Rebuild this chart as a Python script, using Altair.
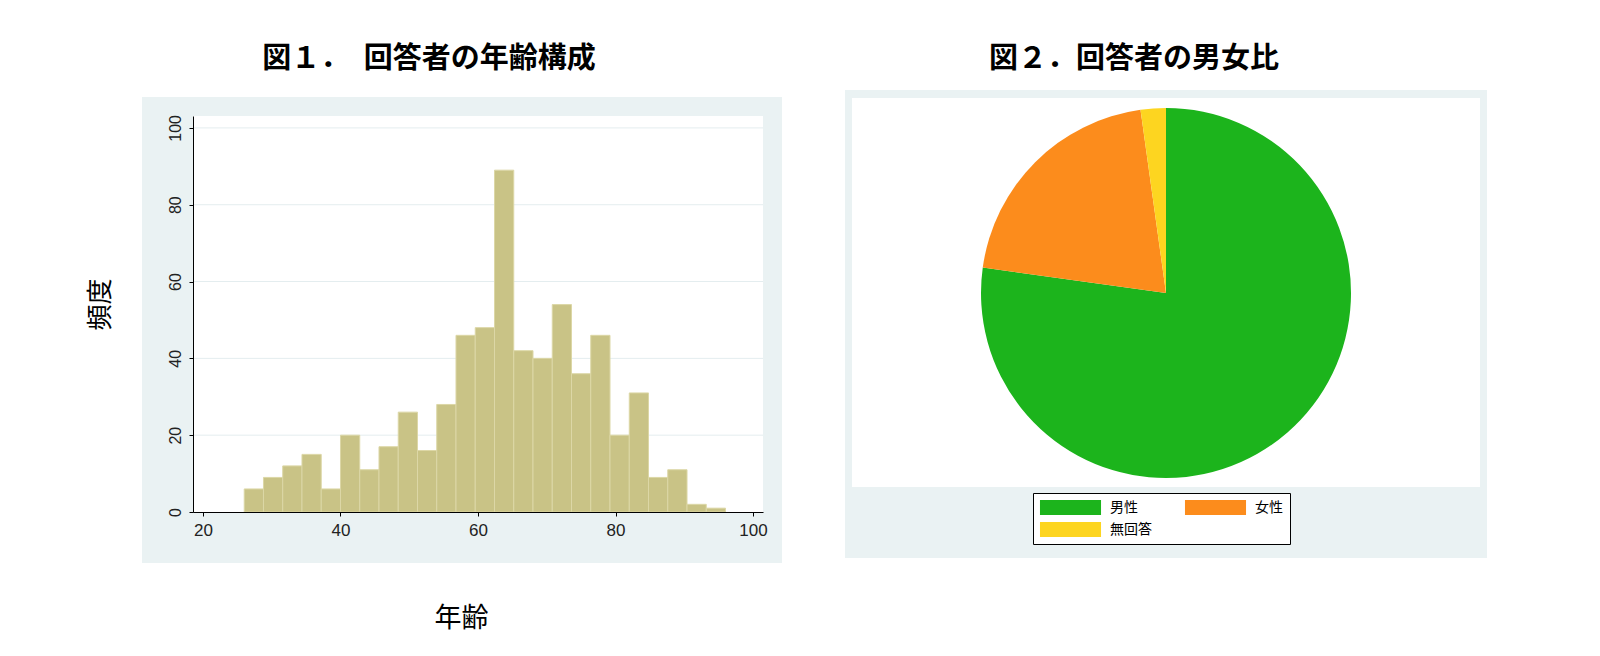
import altair as alt
import pandas as pd

# ---- data ----
bin_start = [26.0, 28.8, 31.6, 34.4, 37.2, 40.0, 42.8, 45.6, 48.4, 51.2, 54.0, 56.8, 59.6,
             62.4, 65.2, 68.0, 70.8, 73.6, 76.4, 79.2, 82.0, 84.8, 87.6, 90.4, 93.2]
bin_end = [28.8, 31.6, 34.4, 37.2, 40.0, 42.8, 45.6, 48.4, 51.2, 54.0, 56.8, 59.6, 62.4,
           65.2, 68.0, 70.8, 73.6, 76.4, 79.2, 82.0, 84.8, 87.6, 90.4, 93.2, 96.0]
counts = [6, 9, 12, 15, 6, 20, 11, 17, 26, 16, 28, 46, 48, 89, 42, 40, 54, 36, 46, 20, 31, 9, 11, 2, 1]
x_ticks = [20, 40, 60, 80, 100]
y_ticks = [0, 20, 40, 60, 80, 100]
grid_vals = [20, 40, 60, 80, 100]

sex_labels = ["男性", "女性", "無回答"]
sex_share = [77.2, 20.6, 2.2]
sex_colors = {"男性": "#1CB41C", "女性": "#FC8C1C", "無回答": "#FDD520"}
legend_order = ["男性", "無回答", "女性"]  # column-major fill -> 男性 女性 / 無回答

GREY = "#EAF2F3"
JP = "Noto Sans CJK JP"
LAT = "Liberation Sans"

hist_df = pd.DataFrame({"start": bin_start, "end": bin_end, "count": counts})
grid_df = pd.DataFrame({"v": grid_vals})
pie_df = pd.DataFrame({"sex": sex_labels, "share": sex_share, "order": list(range(len(sex_labels)))})

W1, H1 = 570, 396
W2, H2 = 628, 354

one = alt.Data(values=[{}])

xs = alt.Scale(domain=[18.55, 101.45], nice=False, zero=False)
ys = alt.Scale(domain=[0, 103.1], nice=False, zero=False)

y_axis = alt.Axis(
    values=y_ticks, grid=False, zindex=1, tickSize=4, tickColor="black", domainColor="black",
    labelFont=LAT, labelFontSize=16, labelColor="#222222", labelAngle=270,
    labelAlign="center", labelBaseline="alphabetic", labelPadding=9,
    title="頻度", titleFont=JP, titleFontSize=26, titleFontWeight="normal", titleColor="black",
    titleAngle=270, titleX=-93, titleY=188, titleAlign="center", titleBaseline="middle")
x_axis = alt.Axis(
    values=x_ticks, grid=False, zindex=1, tickSize=4, tickColor="black", domainColor="black",
    labelFont=LAT, labelFontSize=17, labelColor="#222222", labelPadding=6, labelFlush=False,
    title="年齢", titleFont=JP, titleFontSize=27, titleFontWeight="normal", titleColor="black",
    titleX=268, titleY=106, titleAlign="center", titleBaseline="middle")

anchor_box = alt.Chart(one).mark_rect(opacity=0).encode(
    x=alt.value(-184), x2=alt.value(0), y=alt.value(-107), y2=alt.value(0))
grey1 = alt.Chart(one).mark_rect(color=GREY).encode(
    x=alt.value(-51), x2=alt.value(W1 + 19), y=alt.value(-19), y2=alt.value(H1 + 51))
white1 = alt.Chart(one).mark_rect(color="white").encode(
    x=alt.value(0), x2=alt.value(W1), y=alt.value(0), y2=alt.value(H1))
grid = alt.Chart(grid_df).mark_rule(color="#E4EDEF", strokeWidth=1).encode(
    y=alt.Y("v:Q", scale=ys, axis=y_axis), x=alt.value(0), x2=alt.value(W1))
bars = alt.Chart(hist_df).mark_rect(fill="#C9C386", stroke="#DCD7A6", strokeWidth=1).encode(
    x=alt.X("start:Q", scale=xs, axis=x_axis),
    x2="end:Q",
    y=alt.Y("count:Q", scale=ys, axis=y_axis),
    y2=alt.datum(0),
)

left = alt.layer(anchor_box, grey1, white1, grid, bars).properties(
    width=W1, height=H1,
    title=alt.TitleParams("図１．　回答者の年齢構成", font=JP, fontSize=29, fontWeight="bold",
                          color="black", anchor="middle", frame="group", dx=-49, offset=-65),
)

grey2 = alt.Chart(one).mark_rect(color=GREY).encode(
    x=alt.value(-7), x2=alt.value(W2 + 7), y=alt.value(-26), y2=alt.value(442))
white2 = alt.Chart(one).mark_rect(color="white").encode(
    x=alt.value(0), x2=alt.value(W2), y=alt.value(-18), y2=alt.value(371))
pie = alt.Chart(pie_df).mark_arc(radius=185).encode(
    theta=alt.Theta("share:Q", stack=True),
    order=alt.Order("order:Q"),
    color=alt.Color("sex:N",
                    scale=alt.Scale(domain=legend_order, range=[sex_colors[k] for k in legend_order]),
                    legend=alt.Legend(
                        title=None, orient="none", legendX=181, legendY=377, columns=2,
                        fillColor="white", strokeColor="black", padding=7,
                        symbolType="M-4.07,-1H4.07V1H-4.07Z", symbolSize=225, symbolOffset=23,
                        symbolStrokeWidth=0, labelOffset=32, columnPadding=32, rowPadding=7,
                        labelFont=JP, labelFontSize=14, labelColor="black")),
)

right = alt.layer(grey2, white2, pie).properties(
    width=W2, height=H2,
    title=alt.TitleParams("図２．回答者の男女比", font=JP, fontSize=29, fontWeight="bold",
                          color="black", anchor="middle", frame="group", dx=-32, offset=16),
)

chart = alt.hconcat(
    left, right, spacing=89, bounds="flush",
    padding={"left": 0, "top": 0, "right": 0, "bottom": 20},
).resolve_legend(color="independent").configure_view(stroke=None).configure(background="white")

chart.save("out.html", embed_options={"renderer": "svg", "actions": False})
